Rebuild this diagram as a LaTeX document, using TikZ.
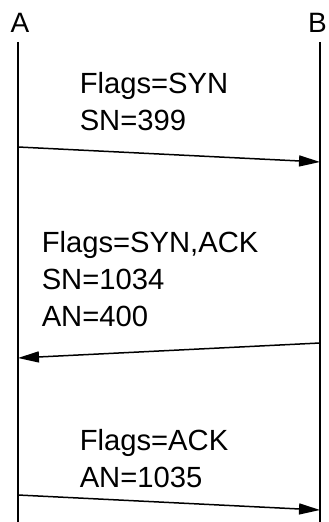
\documentclass[tikz,border=0pt]{standalone}
\usepackage{fontspec}
\setmainfont{Liberation Sans}
\usetikzlibrary{arrows.meta}

\begin{document}
\begin{tikzpicture}[x=0.5pt,y=-0.5pt,line width=0.75pt,
  msg/.style={-{Triangle[length=10.5pt,width=5.5pt]}},
  party/.style={anchor=base,inner sep=0pt,font=\fontsize{14}{16}\selectfont},
  lbl/.style={anchor=base west,inner sep=0pt,align=left,font=\fontsize{14.6}{18.5}\selectfont}]
\useasboundingbox (0,0) rectangle (328,522);
\node[party] (A) at (20,33) {A};
\node[party] (B) at (317.5,33) {B};
\coordinate (Atop) at (18,42); \coordinate (Abot) at (18,522);
\coordinate (Btop) at (320,42); \coordinate (Bbot) at (320,522);
\draw (Atop) -- (Abot);
\draw (Btop) -- (Bbot);
% messages
\coordinate (a1) at (18,147); \coordinate (b1) at (320,162);
\coordinate (b2) at (320,343); \coordinate (a2) at (18,358);
\coordinate (a3) at (18,495); \coordinate (b3) at (320,510);
\draw[msg] (a1) -- (b1);
\draw[msg] (b2) -- (a2);
\draw[msg] (a3) -- (b3);
\node[lbl] (syn) at (79,131) {Flags=SYN\\SN=399};
\node[lbl] (synack) at (41,327) {Flags=SYN,ACK\\SN=1034\\AN=400};
\node[lbl] (ack) at (79,487) {Flags=ACK\\AN=1035};
\end{tikzpicture}
\end{document}
